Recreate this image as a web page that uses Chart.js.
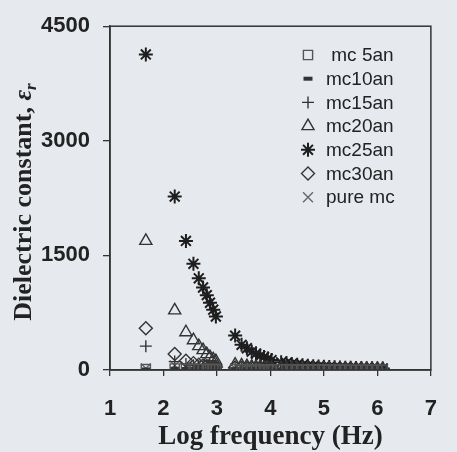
<!DOCTYPE html>
<html>
<head>
<meta charset="utf-8">
<script src="https://cdn.jsdelivr.net/npm/chart.js@4.4.1/dist/chart.umd.min.js"></script>
<style>
  html, body { margin: 0; padding: 0; background: #e6eaef; }
  canvas { display: block; }
</style>
</head>
<body>
<canvas id="chart" width="457" height="452"></canvas>
<script>
// log frequency (Hz) of each measurement
const logFreq = [
  1.67,
  2.21, 2.42, 2.56, 2.66, 2.74, 2.81, 2.87, 2.93, 2.98,
  3.34, 3.46, 3.56, 3.65, 3.73, 3.81, 3.88, 3.95, 4.02,
  4.2, 4.3, 4.4, 4.5, 4.6, 4.7, 4.8, 4.9, 5.0, 5.1, 5.2, 5.3, 5.4, 5.5, 5.6, 5.7, 5.8, 5.9, 6.0, 6.1
];

const mc5an = [
  12,
  20, 17, 15, 14, 13, 12, 12, 11, 11,
  10, 10, 9, 9, 9, 8, 8, 8, 8,
  7, 7, 7, 6, 6, 6, 6, 5, 5, 5, 5, 5, 4, 4, 4, 4, 4, 4, 3, 3
];
const mc10an = [
  8,
  15, 13, 12, 11, 10, 10, 9, 9, 9,
  8, 8, 7, 7, 7, 7, 6, 6, 6,
  6, 5, 5, 5, 5, 5, 4, 4, 4, 4, 4, 4, 3, 3, 3, 3, 3, 3, 3, 3
];
const mc15an = [
  312,
  110, 80, 62, 52, 45, 40, 36, 33, 30,
  26, 24, 22, 21, 20, 19, 18, 17, 16,
  15, 14, 13, 13, 12, 12, 11, 11, 10, 10, 10, 9, 9, 9, 8, 8, 8, 8, 7, 7
];
const mc20an = [
  1690,
  780, 494, 390, 312, 260, 208, 169, 140, 115,
  70, 60, 50, 45, 40, 36, 33, 30, 28,
  25, 23, 21, 20, 19, 18, 17, 16, 15, 15, 14, 14, 13, 13, 12, 12, 12, 11, 11, 11
];
const mc25an = [
  4130,
  2270, 1690, 1390, 1200, 1080, 980, 880, 790, 700,
  450, 330, 285, 240, 215, 185, 170, 150, 130,
  100, 90, 80, 70, 62, 55, 50, 45, 42, 38, 35, 32, 30, 28, 26, 25, 24, 22, 21, 20
];
const mc30an = [
  546,
  210, 120, 90, 70, 60, 52, 46, 42, 38,
  32, 29, 27, 25, 23, 22, 21, 20, 19,
  17, 16, 15, 14, 14, 13, 13, 12, 12, 11, 11, 10, 10, 10, 9, 9, 9, 9, 8, 8
];
const pureMc = [
  20,
  60, 45, 38, 33, 30, 28, 26, 24, 22,
  20, 19, 18, 17, 16, 16, 15, 15, 14,
  13, 13, 12, 12, 11, 11, 11, 10, 10, 10, 9, 9, 9, 9, 8, 8, 8, 8, 8, 7
];

const xTicks = [1, 2, 3, 4, 5, 6, 7];
const yTicks = [0, 1500, 3000, 4500];

const INK = "#222";
const TICK_FONT = { family: "'Liberation Sans', Arial, sans-serif", size: 22, weight: "bold" };
const SERIF = "'Liberation Serif', 'Times New Roman', serif";

const toPoints = (ys) => ys.map((y, i) => ({ x: logFreq[i], y }));

function series(label, ys, style, opts) {
  return {
    label,
    data: toPoints(ys),
    pointStyle: style,
    pointRadius: 5,
    pointBorderWidth: 1.4,
    pointBackgroundColor: "rgba(0,0,0,0)",
    pointBorderColor: "#333",
    showLine: false,
    ...opts,
  };
}

const datasets = [
  series(" mc 5an", mc5an, "rect", { pointRadius: 6.5, pointBorderColor: "#555" }),
  series("mc10an", mc10an, "line", { pointRadius: 4.5, pointBorderWidth: 4, pointBorderColor: "#333" }),
  series("mc15an", mc15an, "cross", { pointRadius: 6 }),
  series("mc20an", mc20an, "triangle", { pointRadius: 7 }),
  series("mc25an", mc25an, "star", { pointRadius: 7, pointBorderWidth: 2, pointBorderColor: "#1e1e1e" }),
  series("mc30an", mc30an, "rectRot", { pointRadius: 6.5 }),
  series("pure mc", pureMc, "crossRot", { pointRadius: 7, pointBorderColor: "#666" }),
];

// paper background, plot frame, inner legend and y title
const paperPlugin = {
  id: "paper",
  beforeDraw(chart) {
    const { ctx } = chart;
    ctx.save();
    ctx.fillStyle = "#e6eaef";
    ctx.fillRect(0, 0, chart.width, chart.height);
    ctx.restore();
  },
  afterDraw(chart) {
    const { ctx, chartArea: a } = chart;
    ctx.save();
    ctx.strokeStyle = "#333";
    ctx.lineWidth = 1.5;
    ctx.strokeRect(a.left, a.top, a.right - a.left, a.bottom - a.top);

    // legend inside the plot
    ctx.font = "19px 'Liberation Sans', Arial, sans-serif";
    ctx.textBaseline = "middle";
    ctx.textAlign = "left";
    chart.data.datasets.forEach((ds, i) => {
      const y = 55 + i * 23.7;
      ctx.strokeStyle = ds.pointBorderColor;
      ctx.fillStyle = "rgba(0,0,0,0)";
      ctx.lineWidth = ds.pointBorderWidth;
      Chart.helpers.drawPoint(ctx, { pointStyle: ds.pointStyle, radius: ds.pointRadius, borderWidth: ds.pointBorderWidth, rotation: 0 }, 308, y);
      ctx.fillStyle = INK;
      ctx.fillText(ds.label, 326, y + 1);
    });

    // y axis title with italic epsilon and subscript r
    ctx.translate(23, 202);
    ctx.rotate(-Math.PI / 2);
    const main = "Dielectric constant, ";
    const fMain = "bold 26px " + SERIF;
    const fEps = "italic bold 26px " + SERIF;
    const fSub = "italic bold 17px " + SERIF;
    ctx.font = fMain; const w1 = ctx.measureText(main).width;
    ctx.font = fEps; const w2 = ctx.measureText("ε").width;
    ctx.font = fSub; const w3 = ctx.measureText("r").width;
    let x = -(w1 + w2 + w3) / 2;
    ctx.fillStyle = INK;
    ctx.textBaseline = "alphabetic";
    ctx.font = fMain; ctx.fillText(main, x, 8); x += w1;
    ctx.font = fEps; ctx.fillText("ε", x, 8); x += w2;
    ctx.font = fSub; ctx.fillText("r", x, 13);
    ctx.restore();
  },
};

new Chart(document.getElementById("chart"), {
  type: "scatter",
  data: { datasets },
  plugins: [paperPlugin],
  options: {
    responsive: false,
    animation: false,
    layout: { padding: { left: 0, top: 24, right: 9, bottom: 0 } },
    plugins: { legend: { display: false }, tooltip: { enabled: false } },
    scales: {
      x: {
        type: "linear",
        min: xTicks[0],
        max: xTicks[xTicks.length - 1],
        afterBuildTicks: (s) => { s.ticks = xTicks.map((v) => ({ value: v })); },
        afterFit: (s) => { s.height = 82; },
        grid: { display: true, drawOnChartArea: false, drawTicks: true, tickLength: 6, color: "#333", lineWidth: 1.3 },
        border: { display: true, color: "#333", width: 1.5 },
        ticks: { color: INK, font: TICK_FONT, padding: 20, maxRotation: 0, callback: (v) => String(v) },
        title: {
          display: true,
          text: "Log frequency (Hz)",
          color: INK,
          font: { family: SERIF, size: 27, weight: "bold", lineHeight: 1 },
          padding: { top: 0, bottom: 1 },
        },
      },
      y: {
        min: yTicks[0],
        max: yTicks[yTicks.length - 1],
        afterBuildTicks: (s) => { s.ticks = yTicks.map((v) => ({ value: v })); },
        afterFit: (s) => { s.width = 110; },
        grid: { display: true, drawOnChartArea: false, drawTicks: true, tickLength: 7, color: "#333", lineWidth: 1.3 },
        border: { display: true, color: "#333", width: 1.5 },
        ticks: { color: INK, font: TICK_FONT, padding: 13, callback: (v) => String(v) },
      },
    },
  },
});
</script>
</body>
</html>
